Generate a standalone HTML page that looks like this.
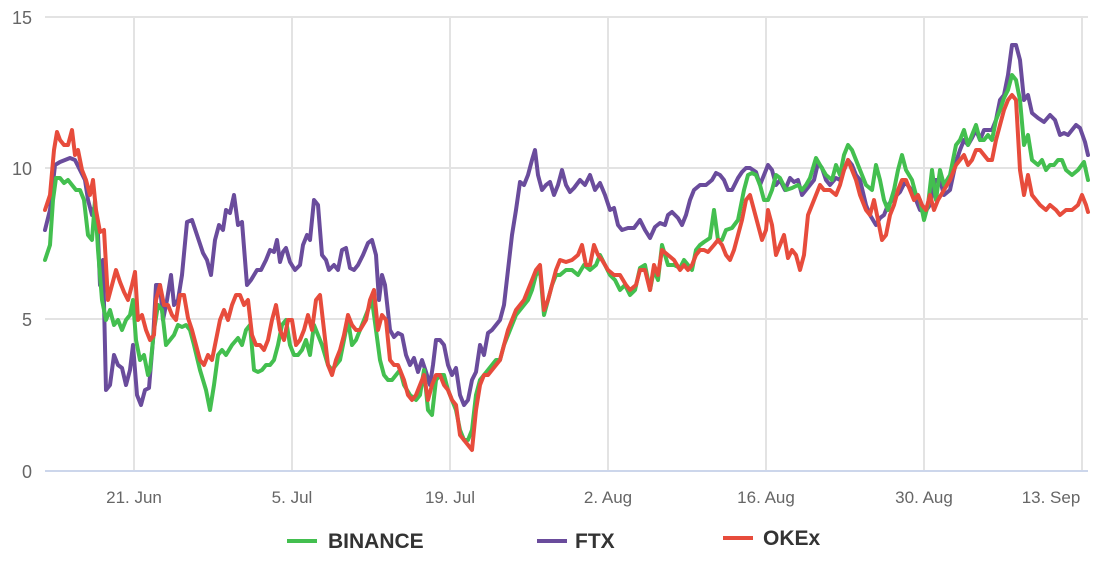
<!DOCTYPE html>
<html><head><meta charset="utf-8"><style>
html,body{margin:0;padding:0;background:#fff;}
svg{display:block;font-family:"Liberation Sans",sans-serif;}
</style></head><body>
<svg width="1104" height="562" viewBox="0 0 1104 562">
<g stroke="#e3e3e3" stroke-width="2">
<line x1="45" y1="17" x2="1088" y2="17"/><line x1="45" y1="168" x2="1088" y2="168"/><line x1="45" y1="319" x2="1088" y2="319"/>
<line x1="134" y1="17" x2="134" y2="471"/><line x1="292" y1="17" x2="292" y2="471"/><line x1="450" y1="17" x2="450" y2="471"/><line x1="608" y1="17" x2="608" y2="471"/><line x1="766" y1="17" x2="766" y2="471"/><line x1="924" y1="17" x2="924" y2="471"/><line x1="1082" y1="17" x2="1082" y2="471"/>
</g>
<line x1="45" y1="471" x2="1088" y2="471" stroke="#ccd6eb" stroke-width="2"/>
<g fill="#666" font-size="18" text-anchor="end">
<text x="32" y="24">15</text><text x="32" y="175">10</text><text x="32" y="326">5</text><text x="32" y="478">0</text>
</g>
<g fill="#666" font-size="17" text-anchor="middle">
<text x="134" y="503">21. Jun</text><text x="292" y="503">5. Jul</text><text x="450" y="503">19. Jul</text><text x="608" y="503">2. Aug</text><text x="766" y="503">16. Aug</text><text x="924" y="503">30. Aug</text><text x="1051" y="503">13. Sep</text>
</g>
<g fill="none" stroke-width="4" stroke-linejoin="round" stroke-linecap="round">
<polyline stroke="#6a4c9c" points="45,230 50,210 55,165 60,162 65,160 70,158 75,160 80,170 85,180 88,200 92,215 95,205 98,235 100,285 103,260 106,390 110,385 114,355 118,365 122,368 126,385 130,370 133,345 137,395 141,405 145,390 149,388 153,340 156,285 160,285 163,320 167,300 171,275 174,305 178,300 182,275 187,222 192,220 198,238 203,253 207,260 211,275 215,240 219,225 223,230 226,210 230,213 234,195 238,225 242,222 247,285 251,280 257,270 261,270 266,260 270,250 274,252 277,240 280,262 283,252 286,248 290,262 295,270 300,265 303,245 307,235 310,240 314,200 318,205 322,255 326,260 329,270 334,265 338,270 342,250 346,248 350,268 354,270 358,265 363,255 368,243 372,240 376,255 379,300 382,275 385,285 390,330 394,337 398,333 402,335 406,355 410,365 414,358 418,372 422,360 426,372 430,385 433,365 436,340 440,340 444,345 448,365 452,375 456,368 460,395 464,405 468,400 472,380 476,372 480,345 484,355 488,333 492,330 496,325 500,320 504,305 508,270 512,235 516,210 520,182 524,185 528,175 532,160 535,150 538,175 542,190 546,185 550,182 554,195 558,185 562,170 566,185 570,192 574,188 580,180 585,185 590,175 595,190 600,183 605,195 610,210 614,208 618,225 622,230 628,228 634,228 640,220 645,230 650,238 655,227 660,223 665,225 668,215 672,212 678,218 682,225 686,215 690,200 694,190 700,185 706,185 712,180 716,173 720,175 724,180 728,190 732,190 738,178 742,172 746,168 750,168 756,172 760,185 764,175 768,165 772,170 776,185 780,180 785,190 790,178 794,182 798,180 802,195 806,190 810,185 814,180 818,163 822,168 826,180 830,185 836,178 840,180 844,170 848,160 852,165 856,175 860,180 866,205 870,215 876,225 880,218 884,215 888,205 894,198 900,192 905,182 910,188 916,200 920,210 925,212 930,205 935,180 940,180 944,195 950,190 956,162 960,150 964,140 968,145 972,138 976,130 980,140 984,130 988,130 992,130 996,120 1000,100 1004,95 1008,75 1012,45 1016,45 1020,60 1024,100 1028,95 1032,113 1038,118 1044,122 1050,115 1055,120 1060,135 1064,133 1068,135 1072,130 1076,125 1080,128 1085,142 1088,155"/>
<polyline stroke="#43bf4f" points="45,260 50,245 53,200 56,178 60,178 64,183 68,180 72,185 76,190 80,190 84,200 88,235 92,240 95,200 98,250 102,300 106,320 110,310 114,325 118,320 122,330 126,320 130,315 133,300 136,340 140,360 144,355 148,375 150,370 154,330 158,305 162,310 166,345 170,340 174,335 178,325 182,327 186,325 190,330 194,345 200,370 206,390 210,410 214,385 218,355 222,350 226,355 232,345 238,338 242,345 246,330 250,325 254,370 258,372 262,370 266,365 270,365 274,360 278,345 282,325 286,320 290,345 294,355 298,355 302,350 306,340 310,355 314,325 318,335 322,345 328,365 332,370 336,365 340,360 344,340 348,320 352,345 356,340 360,330 364,320 368,310 372,300 376,330 380,360 384,375 388,380 392,380 396,375 400,370 404,385 410,395 416,400 420,395 424,370 428,410 432,415 436,380 440,375 444,375 448,390 452,400 456,410 460,430 464,440 468,440 472,430 476,395 480,380 484,375 488,370 492,365 496,360 500,360 504,345 508,335 512,325 516,315 520,310 524,305 528,300 532,290 536,275 540,270 544,315 548,300 552,285 556,275 560,275 566,270 572,270 578,275 584,265 590,270 596,265 600,255 605,265 610,275 615,280 620,290 625,285 630,295 635,290 640,268 645,265 650,290 654,270 658,280 662,245 668,265 674,265 680,268 684,260 688,265 692,270 696,250 700,245 704,242 710,238 714,210 718,240 722,240 726,230 732,228 738,220 744,190 748,175 752,173 756,175 760,185 764,200 768,200 772,190 776,175 780,178 786,190 792,188 798,185 802,190 806,185 810,178 816,158 820,165 826,175 832,180 836,165 840,175 844,155 848,145 852,150 856,160 860,170 866,185 872,190 876,165 880,180 884,200 888,210 894,190 898,170 902,155 906,170 912,180 916,195 920,200 924,220 928,205 932,170 936,200 940,170 944,185 950,175 956,145 960,140 964,130 968,145 972,135 976,125 980,140 984,140 988,135 992,140 996,120 1000,110 1004,98 1008,90 1012,75 1016,80 1020,100 1024,145 1028,135 1032,160 1038,165 1042,160 1046,170 1050,165 1054,165 1058,160 1062,160 1066,170 1072,175 1078,170 1084,162 1088,180"/>
<polyline stroke="#e74c3c" points="45,210 50,195 54,150 57,132 60,140 64,145 68,145 72,130 75,155 78,150 82,170 86,180 90,195 93,180 96,210 100,232 104,230 108,300 112,285 116,270 120,282 124,292 128,300 132,285 135,272 138,320 142,315 146,330 150,340 154,335 156,300 160,285 164,305 168,305 172,315 176,320 180,295 184,295 188,318 192,330 196,345 200,360 204,365 208,355 212,360 216,340 220,320 224,310 228,320 232,305 236,295 240,295 244,305 248,300 252,335 256,345 260,345 264,350 268,340 272,320 276,305 280,330 284,340 288,320 292,320 296,345 300,340 304,330 308,315 312,330 316,300 320,295 324,330 328,365 332,375 336,360 340,350 344,335 348,315 352,325 356,330 360,330 366,320 370,300 374,290 378,330 382,315 386,320 390,360 394,365 398,365 404,380 408,395 412,400 416,395 420,385 424,375 428,400 432,385 436,375 440,375 444,385 448,390 452,400 456,405 460,435 464,440 468,445 472,450 476,410 480,385 484,375 488,375 492,370 496,365 500,360 504,345 508,330 512,320 516,310 520,305 524,300 528,290 532,280 536,270 540,265 544,310 548,300 552,285 556,270 560,260 566,262 572,260 578,255 582,245 586,265 590,265 594,245 598,255 602,260 608,270 614,275 620,275 626,285 630,290 636,285 640,270 645,270 650,290 654,265 658,275 662,250 668,255 674,260 680,270 684,265 688,270 692,265 696,255 700,250 704,250 708,252 714,245 718,240 722,245 726,255 730,260 734,250 738,235 742,220 746,200 750,195 754,210 758,225 762,240 766,230 768,210 772,225 776,255 780,245 784,235 788,258 792,250 796,255 800,270 804,255 808,215 812,205 816,195 820,185 824,190 830,190 836,195 840,185 844,170 848,160 852,170 856,180 860,195 866,210 870,215 874,200 878,220 882,240 886,235 890,215 894,205 898,190 902,180 906,180 910,190 914,200 918,195 922,205 926,210 930,195 934,210 938,200 944,190 950,180 956,165 960,160 964,155 968,165 972,160 976,150 980,150 984,155 988,160 992,160 996,140 1000,125 1004,110 1008,100 1012,95 1016,100 1020,170 1024,195 1028,175 1032,195 1036,200 1040,205 1046,210 1050,205 1056,210 1060,215 1066,210 1072,210 1078,205 1082,195 1086,205 1088,212"/>
</g>
<g font-size="21" font-weight="bold" fill="#333">
<rect x="287" y="539" width="30" height="4" fill="#43bf4f"/><text x="328" y="548">BINANCE</text>
<rect x="537" y="539" width="30" height="4" fill="#6a4c9c"/><text x="575" y="548">FTX</text>
<rect x="723" y="536" width="30" height="4" fill="#e74c3c"/><text x="763" y="545">OKEx</text>
</g>
</svg>
</body></html>
